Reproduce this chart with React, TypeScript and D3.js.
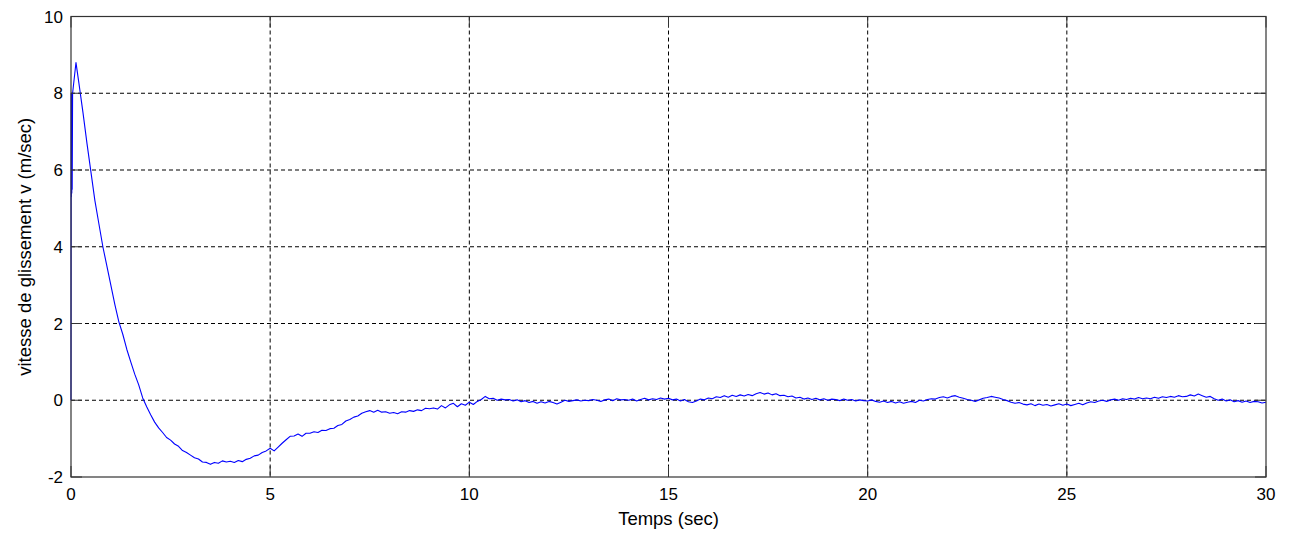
import React, { useRef, useEffect } from 'react';
import * as d3 from 'd3';

// start of the run: fast jump and chattering near t = 0
const startTime = [0, 0.005, 0.01, 0.015, 0.02, 0.025, 0.03, 0.04, 0.125, 0.2];
const startSlip = [0, 8.0, 5.3, 7.9, 5.4, 8.0, 5.5, 8.0, 8.8, 8.25];

// rest of the run, sampled every 0.1 s from t = 0.3
const sampleStart = 0.3;
const sampleStep = 0.1;
const slip = [
  7.5, 6.7, 5.95, 5.2, 4.6, 4.0, 3.5,
  3.0, 2.5, 2.05, 1.72, 1.33, 1.0, 0.68, 0.4, 0.06, -0.17,
  -0.38, -0.57, -0.72, -0.84, -0.97, -1.04, -1.14, -1.2, -1.31, -1.36,
  -1.43, -1.5, -1.53, -1.61, -1.62, -1.67, -1.62, -1.64, -1.58, -1.61,
  -1.59, -1.62, -1.57, -1.6, -1.54, -1.51, -1.45, -1.43, -1.36, -1.32,
  -1.25, -1.32, -1.22, -1.12, -1.03, -0.94, -0.93, -0.88, -0.94, -0.86,
  -0.86, -0.82, -0.84, -0.78, -0.79, -0.74, -0.73, -0.66, -0.63, -0.54,
  -0.5, -0.44, -0.41, -0.34, -0.3, -0.27, -0.31, -0.26, -0.31, -0.3,
  -0.34, -0.32, -0.35, -0.3, -0.31, -0.27, -0.29, -0.25, -0.27, -0.21,
  -0.22, -0.2, -0.23, -0.14, -0.2, -0.12, -0.08, -0.17, -0.09, -0.13,
  -0.05, -0.11, -0.03, 0.02, 0.1, 0.04, 0.05, 0.0, 0.03, 0.01,
  0.02, -0.02, 0.01, -0.04, -0.01, -0.06, -0.03, -0.08, -0.04, -0.07,
  -0.03, -0.06, -0.1, -0.05, 0.0, -0.03, -0.01, 0.01, -0.02, 0.0,
  -0.01, 0.02, 0.0, -0.03, 0.01, 0.03, -0.01, 0.04, 0.01, 0.02,
  0.0, 0.03, -0.02, 0.02, 0.05, 0.01, 0.04, 0.02, 0.06, 0.03,
  0.05, 0.01, 0.03, -0.02, 0.02, -0.04, -0.06, -0.02, 0.03, 0.01,
  0.06, 0.04, 0.09, 0.07, 0.12, 0.08, 0.13, 0.1, 0.14, 0.11,
  0.15, 0.12, 0.17, 0.2, 0.16, 0.19, 0.14, 0.17, 0.12, 0.13,
  0.09, 0.11, 0.06, 0.08, 0.03, 0.06, 0.02, 0.05, 0.01, 0.04,
  0.0, 0.03, 0.02, -0.01, 0.03, 0.0, 0.02, -0.02, 0.01, -0.01,
  -0.02, 0.01, -0.03, -0.05, -0.02, -0.06, -0.03, -0.07, -0.04, -0.08,
  -0.05, -0.03, -0.06, 0.0, -0.02, 0.02, 0.04, 0.03, 0.07, 0.09,
  0.06, 0.1, 0.12, 0.08, 0.05, 0.02, 0.0, -0.03, 0.01, 0.05,
  0.07, 0.1, 0.08, 0.06, 0.02, -0.01, -0.05, -0.08, -0.06, -0.1,
  -0.12, -0.09, -0.14, -0.1, -0.13, -0.11, -0.15, -0.12, -0.09, -0.13,
  -0.1, -0.14, -0.11, -0.08, -0.12, -0.07, -0.04, -0.06, -0.02, 0.0,
  -0.03, 0.01, 0.03, 0.0, 0.04, 0.02, 0.05, 0.03, 0.07, 0.04,
  0.06, 0.04, 0.08, 0.05, 0.09, 0.07, 0.1, 0.08, 0.12, 0.09,
  0.1, 0.14, 0.11, 0.16, 0.12, 0.08, 0.1, 0.04, 0.0, 0.03,
  -0.02, 0.01, -0.04, -0.01, -0.05, -0.02, -0.06, -0.03, -0.04, -0.07,
  -0.05,
];

const xTicks = [0, 5, 10, 15, 20, 25, 30];
const yTicks = [-2, 0, 2, 4, 6, 8, 10];

const width = 1292;
const height = 537;

export default function App() {
  const svgRef = useRef<SVGSVGElement>(null);

  useEffect(() => {
    const svg = d3.select(svgRef.current);
    svg.selectAll('*').remove();

    const margin = { top: 16.5, right: 26, bottom: 60, left: 71 };
    const w = width - margin.left - margin.right;
    const h = height - margin.top - margin.bottom;
    const font = 'Arial, "Liberation Sans", sans-serif';

    const x = d3.scaleLinear().domain([0, 30]).range([0, w]);
    const y = d3.scaleLinear().domain([-2, 10]).range([h, 0]);

    const points: [number, number][] = startTime.map((t, i) => [t, startSlip[i]]);
    slip.forEach((v, i) => points.push([sampleStart + i * sampleStep, v]));

    svg.append('rect').attr('width', width).attr('height', height).attr('fill', '#fff');

    const g = svg.append('g').attr('transform', `translate(${margin.left}, ${margin.top})`);

    // dashed grid
    g.selectAll('.gx')
      .data(xTicks.slice(1, -1))
      .enter()
      .append('line')
      .attr('x1', d => x(d)).attr('x2', d => x(d))
      .attr('y1', 0).attr('y2', h)
      .attr('stroke', '#000')
      .attr('stroke-dasharray', '4,3');

    g.selectAll('.gy')
      .data(yTicks.slice(1, -1))
      .enter()
      .append('line')
      .attr('y1', d => y(d)).attr('y2', d => y(d))
      .attr('x1', 0).attr('x2', w)
      .attr('stroke', '#000')
      .attr('stroke-dasharray', '4,3');

    // the curve
    const line = d3.line<[number, number]>()
      .x(d => x(d[0]))
      .y(d => y(d[1]));

    g.append('path')
      .datum(points)
      .attr('d', line)
      .attr('fill', 'none')
      .attr('stroke', '#0000ff')
      .attr('stroke-width', 1.1)
      .attr('stroke-linejoin', 'round');

    // inward ticks on all four sides
    const tl = 11;
    const frame = '#333';
    xTicks.forEach(t => {
      g.append('line').attr('x1', x(t)).attr('x2', x(t)).attr('y1', h).attr('y2', h - tl).attr('stroke', frame);
      g.append('line').attr('x1', x(t)).attr('x2', x(t)).attr('y1', 0).attr('y2', tl).attr('stroke', frame);
    });
    yTicks.forEach(t => {
      g.append('line').attr('y1', y(t)).attr('y2', y(t)).attr('x1', 0).attr('x2', tl).attr('stroke', frame);
      g.append('line').attr('y1', y(t)).attr('y2', y(t)).attr('x1', w).attr('x2', w - tl).attr('stroke', frame);
    });

    g.append('rect')
      .attr('width', w).attr('height', h)
      .attr('fill', 'none')
      .attr('stroke', frame)
      .attr('stroke-width', 1.2);

    // tick labels
    g.selectAll('.xl')
      .data(xTicks)
      .enter()
      .append('text')
      .attr('x', d => x(d))
      .attr('y', h + 23)
      .attr('text-anchor', 'middle')
      .style('font-family', font)
      .style('font-size', '17px')
      .attr('fill', '#000')
      .text(d => d);

    g.selectAll('.yl')
      .data(yTicks)
      .enter()
      .append('text')
      .attr('x', -8)
      .attr('y', d => y(d))
      .attr('dy', '0.36em')
      .attr('text-anchor', 'end')
      .style('font-family', font)
      .style('font-size', '17px')
      .attr('fill', '#000')
      .text(d => d);

    // axis titles
    g.append('text')
      .attr('x', w / 2)
      .attr('y', h + 48)
      .attr('text-anchor', 'middle')
      .style('font-family', font)
      .style('font-size', '18.5px')
      .attr('fill', '#000')
      .text('Temps (sec)');

    g.append('text')
      .attr('transform', `translate(${25 - margin.left + 6}, ${h / 2}) rotate(-90)`)
      .attr('text-anchor', 'middle')
      .style('font-family', font)
      .style('font-size', '18.5px')
      .attr('fill', '#000')
      .text('vitesse de glissement v (m/sec)');
  }, []);

  return (
    <svg
      ref={svgRef}
      width={width}
      height={height}
      style={{ position: 'absolute', left: 0, top: 0, display: 'block' }}
    />
  );
}
